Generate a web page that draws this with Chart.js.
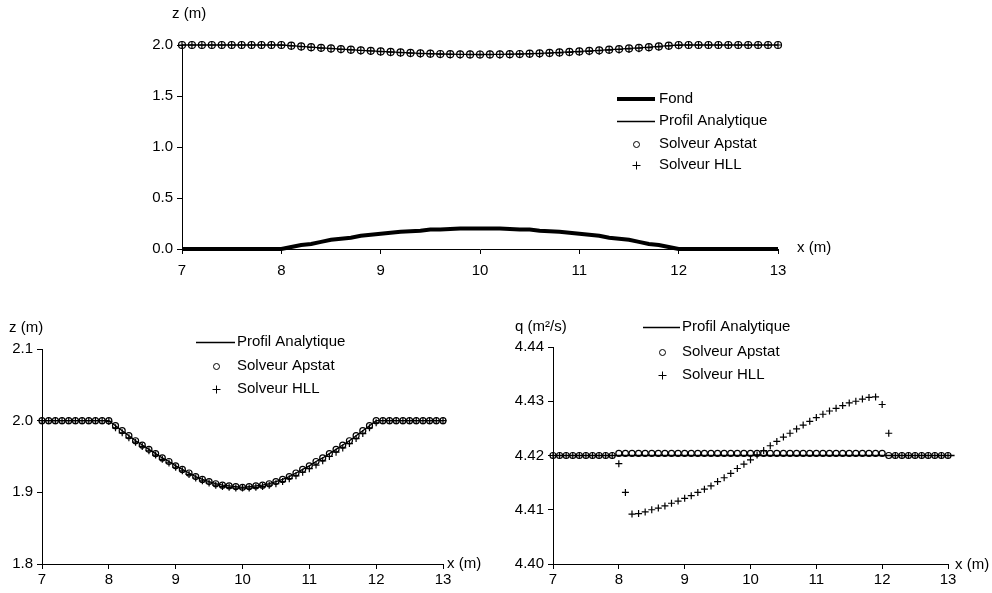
<!DOCTYPE html>
<html>
<head>
<meta charset="utf-8">
<script src="https://cdn.jsdelivr.net/npm/chart.js@4.4.0/dist/chart.umd.min.js"></script>
<style>
    html, body { margin: 0; padding: 0; background: #fff; }
    body { width: 992px; height: 593px; position: relative; overflow: hidden; }
    canvas { position: absolute; }
    #topChart { left: 0; top: 0; }
    #zChart { left: 0; top: 295px; }
    #qChart { left: 496px; top: 295px; }
</style>
</head>
<body>
<canvas id="topChart" width="992" height="295"></canvas>
<canvas id="zChart" width="496" height="298"></canvas>
<canvas id="qChart" width="496" height="298"></canvas>
<script>
// ========================================
// DATA
// ========================================

const xs = [
    7.0, 7.1, 7.2, 7.3, 7.4, 7.5, 7.6, 7.7, 7.8, 7.9,
    8.0, 8.1, 8.2, 8.3, 8.4, 8.5, 8.6, 8.7, 8.8, 8.9,
    9.0, 9.1, 9.2, 9.3, 9.4, 9.5, 9.6, 9.7, 9.8, 9.9,
    10.0, 10.1, 10.2, 10.3, 10.4, 10.5, 10.6, 10.7, 10.8, 10.9,
    11.0, 11.1, 11.2, 11.3, 11.4, 11.5, 11.6, 11.7, 11.8, 11.9,
    12.0, 12.1, 12.2, 12.3, 12.4, 12.5, 12.6, 12.7, 12.8, 12.9,
    13.0
];

// bed elevation (m)
const fond = [
    0, 0, 0, 0, 0, 0, 0, 0, 0, 0,
    0, 0.02, 0.04, 0.05, 0.07, 0.09, 0.10, 0.11, 0.13, 0.14,
    0.15, 0.16, 0.17, 0.175, 0.18, 0.19, 0.19, 0.195, 0.2, 0.2,
    0.2, 0.2, 0.2, 0.195, 0.19, 0.19, 0.18, 0.175, 0.17, 0.16,
    0.15, 0.14, 0.13, 0.11, 0.10, 0.09, 0.07, 0.05, 0.04, 0.02,
    0, 0, 0, 0, 0, 0, 0, 0, 0, 0,
    0
];

// free surface (m)
const zAnalyticX = [
    7.0, 7.1, 7.2, 7.3, 7.4, 7.5, 7.6, 7.7, 7.8, 7.9,
    8.0, 8.1, 8.2, 8.3, 8.4, 8.5, 8.6, 8.7, 8.8, 8.9,
    9.0, 9.1, 9.2, 9.3, 9.4, 9.5, 9.6, 9.7, 9.8, 9.9,
    10.0, 10.1, 10.2, 10.3, 10.4, 10.5, 10.6, 10.7, 10.8, 10.9,
    11.0, 11.1, 11.2, 11.3, 11.4, 11.5, 11.6, 11.7, 11.8, 11.9,
    12.0, 12.1, 12.2, 12.3, 12.4, 12.5, 12.6, 12.7, 12.8, 12.9,
    13.0, 13.05
];
const zAnalytic = [
    2.000, 2.000, 2.000, 2.000, 2.000, 2.000, 2.000, 2.000, 2.000, 2.000,
    2.000, 1.993, 1.986, 1.979, 1.972, 1.966, 1.960, 1.954, 1.948, 1.943,
    1.937, 1.932, 1.927, 1.922, 1.918, 1.915, 1.912, 1.910, 1.909, 1.908,
    1.907, 1.908, 1.909, 1.910, 1.912, 1.915, 1.918, 1.922, 1.927, 1.932,
    1.937, 1.943, 1.948, 1.954, 1.960, 1.966, 1.972, 1.979, 1.986, 1.993,
    2.000, 2.000, 2.000, 2.000, 2.000, 2.000, 2.000, 2.000, 2.000, 2.000,
    2.000, 2.000
];
const zApstat = [
    2.000, 2.000, 2.000, 2.000, 2.000, 2.000, 2.000, 2.000, 2.000, 2.000,
    2.000, 1.993, 1.986, 1.979, 1.972, 1.966, 1.960, 1.954, 1.948, 1.943,
    1.937, 1.932, 1.927, 1.922, 1.918, 1.915, 1.912, 1.910, 1.909, 1.908,
    1.907, 1.908, 1.909, 1.910, 1.912, 1.915, 1.918, 1.922, 1.927, 1.932,
    1.937, 1.943, 1.948, 1.954, 1.960, 1.966, 1.972, 1.979, 1.986, 1.993,
    2.000, 2.000, 2.000, 2.000, 2.000, 2.000, 2.000, 2.000, 2.000, 2.000,
    2.000
];
const zHLL = [
    2.000, 2.000, 2.000, 2.000, 2.000, 2.000, 2.000, 2.000, 2.000, 2.000,
    1.999, 1.990, 1.983, 1.976, 1.970, 1.964, 1.958, 1.952, 1.946, 1.941,
    1.935, 1.930, 1.925, 1.920, 1.916, 1.913, 1.910, 1.908, 1.907, 1.906,
    1.906, 1.906, 1.907, 1.908, 1.910, 1.912, 1.915, 1.919, 1.923, 1.928,
    1.933, 1.938, 1.944, 1.950, 1.956, 1.962, 1.968, 1.975, 1.982, 1.990,
    1.997, 2.000, 2.000, 2.000, 2.000, 2.000, 2.000, 2.000, 2.000, 2.000,
    2.000
];

// discharge (m2/s)
const qAnalyticX = [7, 13.1];
const qAnalytic = [4.42, 4.42];
const qApstat = [
    4.4200, 4.4200, 4.4200, 4.4200, 4.4200, 4.4200, 4.4200, 4.4200, 4.4200, 4.4200,
    4.4204, 4.4204, 4.4204, 4.4204, 4.4204, 4.4204, 4.4204, 4.4204, 4.4204, 4.4204,
    4.4204, 4.4204, 4.4204, 4.4204, 4.4204, 4.4204, 4.4204, 4.4204, 4.4204, 4.4204,
    4.4204, 4.4204, 4.4204, 4.4204, 4.4204, 4.4204, 4.4204, 4.4204, 4.4204, 4.4204,
    4.4204, 4.4204, 4.4204, 4.4204, 4.4204, 4.4204, 4.4204, 4.4204, 4.4204, 4.4204,
    4.4204, 4.4200, 4.4200, 4.4200, 4.4200, 4.4200, 4.4200, 4.4200, 4.4200, 4.4200,
    4.4200
];
const qHLL = [
    4.4200, 4.4200, 4.4200, 4.4200, 4.4200, 4.4200, 4.4200, 4.4200, 4.4200, 4.4200,
    4.4185, 4.4132, 4.4092, 4.4093, 4.4096, 4.4100, 4.4103, 4.4107, 4.4112, 4.4116,
    4.4121, 4.4126, 4.4132, 4.4138, 4.4144, 4.4152, 4.4159, 4.4167, 4.4176, 4.4184,
    4.4192, 4.4201, 4.4209, 4.4218, 4.4226, 4.4234, 4.4241, 4.4249, 4.4256, 4.4263,
    4.4270, 4.4276, 4.4282, 4.4287, 4.4292, 4.4297, 4.4300, 4.4304, 4.4307, 4.4308,
    4.4294, 4.4241, 4.4200, 4.4200, 4.4200, 4.4200, 4.4200, 4.4200, 4.4200, 4.4200,
    4.4200
];

const FONT = '"Liberation Sans", Arial, sans-serif';

// ========================================
// HELPERS
// ========================================

function pairs(xv, yv) {
    return yv.map((y, i) => ({ x: xv[i], y: y }));
}

function lineSet(label, xv, yv, width) {
    return {
        label: label,
        data: pairs(xv, yv),
        borderColor: '#000',
        borderWidth: width,
        pointRadius: 0,
        tension: 0,
        clip: false
    };
}

function markerSet(label, xv, yv, style, radius) {
    return {
        label: label,
        data: pairs(xv, yv),
        showLine: false,
        pointStyle: style,
        pointRadius: radius,
        pointBorderColor: '#000',
        pointBackgroundColor: 'rgba(0,0,0,0)',
        pointBorderWidth: 1.2,
        borderColor: '#000',
        clip: false
    };
}

function axis(min, max, step, digits, fit, pad) {
    return {
        type: 'linear',
        min: min,
        max: max,
        afterFit: fit,
        ticks: {
            stepSize: step,
            color: '#000',
            padding: pad,
            maxRotation: 0,
            font: { family: FONT, size: 15 },
            callback: v => digits === 0 ? String(v) : Number(v).toFixed(digits)
        },
        grid: { drawOnChartArea: false, tickLength: 5, color: '#000', lineWidth: 1 },
        border: { color: '#000', width: 1 }
    };
}

// axis titles + a legend built from the datasets
const extrasPlugin = {
    id: 'extras',
    afterDraw(chart, args, opts) {
        const ctx = chart.ctx;
        ctx.save();
        ctx.fillStyle = '#000';
        ctx.strokeStyle = '#000';
        ctx.font = '15px ' + FONT;
        ctx.textBaseline = 'middle';
        (opts.titles || []).forEach(t => ctx.fillText(t.text, t.x, t.y));

        const lg = opts.legend;
        if (lg) {
            chart.data.datasets.forEach((ds, i) => {
                const y = lg.rows[i];
                if (ds.showLine === false) {
                    const cx = Math.round((lg.x0 + lg.x1) / 2) + 0.5;
                    const cy = y + 0.5;
                    ctx.lineWidth = 1;
                    ctx.beginPath();
                    if (ds.pointStyle === 'circle') {
                        ctx.arc(cx, cy, 3, 0, Math.PI * 2);
                    } else {
                        ctx.moveTo(cx - 4, cy); ctx.lineTo(cx + 4, cy);
                        ctx.moveTo(cx, cy - 4); ctx.lineTo(cx, cy + 4);
                    }
                    ctx.stroke();
                } else {
                    const ly = ds.borderWidth % 2 === 0 ? y : y + 0.5;
                    ctx.lineWidth = ds.borderWidth;
                    ctx.beginPath();
                    ctx.moveTo(lg.x0, ly);
                    ctx.lineTo(lg.x1, ly);
                    ctx.stroke();
                }
                ctx.fillText(ds.label, lg.textX, y);
            });
        }
        ctx.restore();
    }
};

function makeChart(id, datasets, scales, padding, extras) {
    return new Chart(document.getElementById(id), {
        type: 'line',
        data: { datasets: datasets },
        options: {
            responsive: false,
            animation: false,
            events: [],
            layout: { padding: padding },
            plugins: { legend: { display: false }, tooltip: { enabled: false }, extras: extras },
            scales: scales
        },
        plugins: [extrasPlugin]
    });
}

// ========================================
// CHARTS
// ========================================

makeChart('topChart', [
    lineSet('Fond', xs, fond, 4),
    lineSet('Profil Analytique', zAnalyticX, zAnalytic, 1.3),
    markerSet('Solveur Apstat', xs, zApstat, 'circle', 3.5),
    markerSet('Solveur HLL', xs, zHLL, 'cross', 4)
], {
    x: axis(7, 13, 1, 0, s => { s.height = 30; }, 8),
    y: axis(0, 2, 0.5, 1, s => { s.width = 182; }, 4)
}, { left: 0, right: 214, top: 45, bottom: 16 }, {
    titles: [{ text: 'z (m)', x: 172, y: 14 }, { text: 'x (m)', x: 797, y: 248 }],
    legend: { x0: 617, x1: 655, textX: 659, rows: [99, 121, 144, 165] }
});

makeChart('zChart', [
    lineSet('Profil Analytique', zAnalyticX, zAnalytic, 1.3),
    markerSet('Solveur Apstat', xs, zApstat, 'circle', 3),
    markerSet('Solveur HLL', xs, zHLL, 'cross', 3.5)
], {
    x: axis(7, 13, 1, 0, s => { s.height = 24; }, 2),
    y: axis(1.8, 2.1, 0.1, 1, s => { s.width = 42; }, 4)
}, { left: 0, right: 53, top: 54, bottom: 5 }, {
    titles: [{ text: 'z (m)', x: 9, y: 33 }, { text: 'x (m)', x: 447, y: 269 }],
    legend: { x0: 196, x1: 235, textX: 237, rows: [47, 71, 94] }
});

makeChart('qChart', [
    lineSet('Profil Analytique', qAnalyticX, qAnalytic, 1.3),
    markerSet('Solveur Apstat', xs, qApstat, 'circle', 3),
    markerSet('Solveur HLL', xs, qHLL, 'cross', 3.5)
], {
    x: axis(7, 13, 1, 0, s => { s.height = 24; }, 2),
    y: axis(4.40, 4.44, 0.01, 2, s => { s.width = 57; }, 4)
}, { left: 0, right: 44, top: 52, bottom: 5 }, {
    titles: [{ text: 'q (m\u00b2/s)', x: 19, y: 32 }, { text: 'x (m)', x: 459, y: 270 }],
    legend: { x0: 147, x1: 184, textX: 186, rows: [32, 57, 80] }
});
</script>
</body>
</html>
